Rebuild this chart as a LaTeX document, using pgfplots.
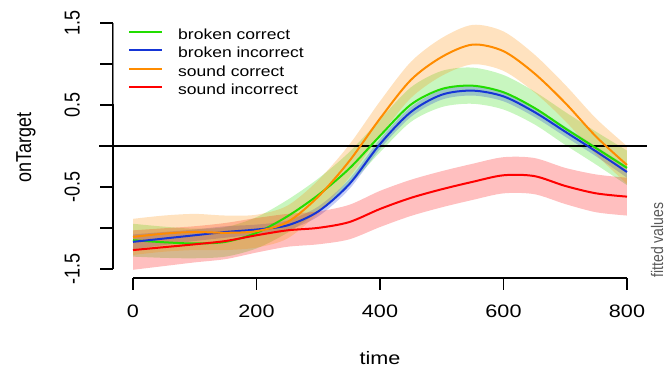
\documentclass[border=0pt]{standalone}
\usepackage{fontspec}
\setmainfont{Liberation Sans}
\newfontfamily\hf[FakeStretch=1.2]{Liberation Sans}
\newfontfamily\vf[FakeStretch=0.8333]{Liberation Sans}
\usepackage{pgfplots}
\pgfplotsset{compat=1.18}
\usepgfplotslibrary{fillbetween}
\usepackage{pgfplotstable}
\definecolor{cgreen}{HTML}{22DD00}
\definecolor{cblue}{HTML}{1535D6}
\definecolor{corange}{HTML}{FF8C00}
\definecolor{cred}{HTML}{FF0000}

\pgfplotstableread{
x y ci
0 -1.15 0.20
50 -1.175 0.19
100 -1.19 0.18
150 -1.17 0.18
200 -1.06 0.19
250 -0.86 0.20
300 -0.60 0.20
350 -0.28 0.20
400 0.12 0.20
450 0.50 0.21
500 0.69 0.22
550 0.73 0.22
600 0.65 0.21
650 0.46 0.20
700 0.21 0.20
750 -0.03 0.20
800 -0.27 0.21
}\tabbc
\pgfplotstableread{
x y ci
0 -1.17 0.09
50 -1.13 0.08
100 -1.09 0.07
150 -1.05 0.07
200 -1.02 0.06
250 -0.97 0.06
300 -0.80 0.06
350 -0.47 0.06
400 0.02 0.06
450 0.41 0.06
500 0.62 0.06
550 0.67 0.06
600 0.60 0.06
650 0.41 0.06
700 0.17 0.06
750 -0.07 0.06
800 -0.32 0.07
}\tabbi
\pgfplotstableread{
x y ci
0 -1.11 0.22
50 -1.07 0.22
100 -1.05 0.22
150 -1.06 0.21
200 -1.04 0.20
250 -0.93 0.20
300 -0.62 0.20
350 -0.19 0.20
400 0.33 0.21
450 0.80 0.22
500 1.08 0.23
550 1.23 0.24
600 1.15 0.24
650 0.88 0.23
700 0.52 0.22
750 0.11 0.22
800 -0.235 0.23
}\tabsc
\pgfplotstableread{
x y ci
0 -1.27 0.24
50 -1.235 0.23
100 -1.20 0.22
150 -1.16 0.22
200 -1.09 0.21
250 -1.03 0.20
300 -1.00 0.20
350 -0.93 0.21
400 -0.77 0.22
450 -0.635 0.22
500 -0.53 0.22
550 -0.44 0.22
600 -0.36 0.22
650 -0.37 0.22
700 -0.49 0.22
750 -0.58 0.23
800 -0.62 0.23
}\tabsi

\begin{document}
\begin{tikzpicture}
\begin{axis}[at={(99pt,89pt)}, anchor=south west, scale only axis,
  width=548pt, height=263.8pt, xmin=-55.06, xmax=832.4, ymin=-1.61, ymax=1.6,
  hide axis,
  legend style={at={(axis description cs:0.0529,0.9458)}, anchor=north west,
    draw=none, fill=none, inner sep=0pt, row sep=0pt, column sep=15pt,
    nodes={inner sep=0pt, text height=11pt, text depth=7.2pt},
    font=\hf\fontsize{14.6}{17}\selectfont},
  legend cell align=left,
  legend image code/.code={\draw[#1] (0pt,5.5pt) -- (33pt,5.5pt);},
]
\addlegendimage{cgreen, line width=2pt}\addlegendentry{broken correct}
\addlegendimage{cblue, line width=2pt}\addlegendentry{broken incorrect}
\addlegendimage{corange, line width=2pt}\addlegendentry{sound correct}
\addlegendimage{cred, line width=2pt}\addlegendentry{sound incorrect}

\addplot[black, line width=1.8pt, forget plot] coordinates {(-55.06,0) (832.4,0)};

% broken correct
\addplot[name path=bcu, draw=none, smooth, forget plot] table[x=x, y expr=\thisrow{y}+\thisrow{ci}] {\tabbc};
\addplot[name path=bcl, draw=none, smooth, forget plot] table[x=x, y expr=\thisrow{y}-\thisrow{ci}] {\tabbc};
\addplot[fill=cgreen, fill opacity=0.25, draw=none, forget plot] fill between[of=bcu and bcl];
\addplot[cgreen, line width=2pt, smooth, forget plot] table[x=x, y=y] {\tabbc};
% broken incorrect
\addplot[name path=biu, draw=none, smooth, forget plot] table[x=x, y expr=\thisrow{y}+\thisrow{ci}] {\tabbi};
\addplot[name path=bil, draw=none, smooth, forget plot] table[x=x, y expr=\thisrow{y}-\thisrow{ci}] {\tabbi};
\addplot[fill=cblue, fill opacity=0.25, draw=none, forget plot] fill between[of=biu and bil];
\addplot[cblue, line width=2pt, smooth, forget plot] table[x=x, y=y] {\tabbi};
% sound incorrect
\addplot[name path=siu, draw=none, smooth, forget plot] table[x=x, y expr=\thisrow{y}+\thisrow{ci}] {\tabsi};
\addplot[name path=sil, draw=none, smooth, forget plot] table[x=x, y expr=\thisrow{y}-\thisrow{ci}] {\tabsi};
\addplot[fill=cred, fill opacity=0.25, draw=none, forget plot] fill between[of=siu and sil];
\addplot[cred, line width=2pt, smooth, forget plot] table[x=x, y=y] {\tabsi};
% sound correct
\addplot[name path=scu, draw=none, smooth, forget plot] table[x=x, y expr=\thisrow{y}+\thisrow{ci}] {\tabsc};
\addplot[name path=scl, draw=none, smooth, forget plot] table[x=x, y expr=\thisrow{y}-\thisrow{ci}] {\tabsc};
\addplot[fill=corange, fill opacity=0.25, draw=none, forget plot] fill between[of=scu and scl];
\addplot[corange, line width=2pt, smooth, forget plot] table[x=x, y=y] {\tabsc};
\end{axis}

% x axis
\begin{axis}[at={(133pt,89pt)}, anchor=south west, scale only axis,
  width=494pt, height=20pt, xmin=0, xmax=800, ymin=0, ymax=1,
  axis x line*=bottom, axis y line=none,
  xtick={0,200,400,600,800}, xticklabels={0,200,400,600,800},
  tick align=outside, major tick length=12pt,
  every tick/.style={black, line width=1.8pt},
  axis line style={line width=1.8pt},
  xticklabel style={font=\hf\fontsize{18}{20}\selectfont, yshift=-11pt},
]
\addplot[draw=none, forget plot] coordinates {(0,0.5) (800,0.5)};
\end{axis}

% y axis
\begin{axis}[at={(113pt,97.7pt)}, anchor=south west, scale only axis,
  width=20pt, height=246.6pt, ymin=-1.5, ymax=1.5, xmin=0, xmax=1,
  axis y line*=left, axis x line=none,
  ytick={-1.5,-1,-0.5,0,0.5,1,1.5}, yticklabels={-1.5,,-0.5,,0.5,,1.5},
  tick align=outside, major tick length=13pt,
  every tick/.style={black, line width=1.8pt},
  axis line style={line width=1.8pt},
  yticklabel style={rotate=90, anchor=south, inner ysep=20pt, font=\vf\fontsize{21.6}{24}\selectfont},
]
\addplot[draw=none, forget plot] coordinates {(0.5,-1.5) (0.5,1.5)};
\end{axis}
\fill[white, opacity=0.5] (113pt,263pt) rectangle (114.8pt,345pt);

\node[rotate=90, font=\vf\fontsize{21.6}{24}\selectfont] at (26pt,219.5pt) {onTarget};
\node[anchor=base, font=\hf\fontsize{18}{20}\selectfont] at (380pt,2.5pt) {time};
\node[rotate=90, font=\vf\fontsize{16.8}{18}\selectfont, text=black!65] at (657pt,127pt) {fitted values};
\pgfresetboundingbox
\path[use as bounding box] (0,0) rectangle (667pt,367pt);
\end{tikzpicture}
\end{document}
